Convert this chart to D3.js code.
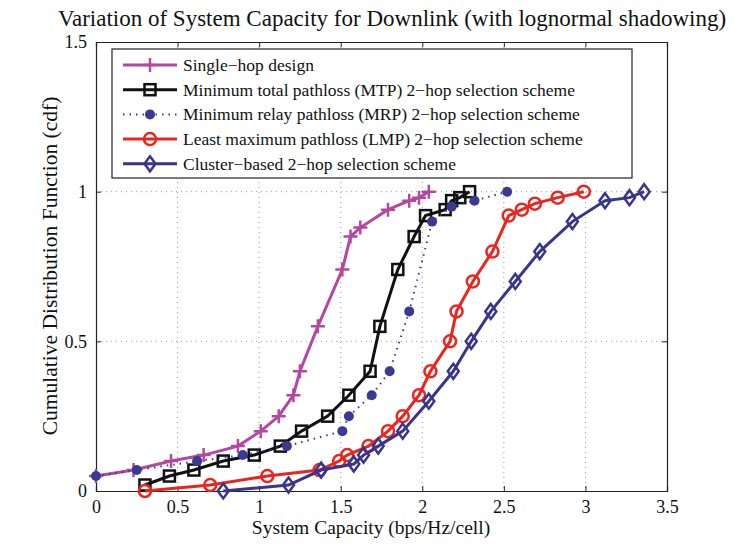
<!DOCTYPE html>
<html>
<head>
<meta charset="utf-8">
<script src="https://cdn.jsdelivr.net/npm/d3@7"></script>
<style>
  body { margin: 0; background: #fff; }
</style>
</head>
<body>
<div id="chart"></div>
<script>
// data
const singleX = [0, 0.23, 0.46, 0.66, 0.87, 1.01, 1.12, 1.21, 1.25, 1.36, 1.51, 1.56, 1.62, 1.79, 1.92, 1.98, 2.04]
const singleY = [0.05, 0.07, 0.10, 0.12, 0.15, 0.20, 0.25, 0.32, 0.40, 0.55, 0.74, 0.85, 0.88, 0.94, 0.97, 0.98, 1.0]

const mtpX = [0.30, 0.45, 0.60, 0.78, 0.97, 1.13, 1.26, 1.42, 1.55, 1.68, 1.74, 1.85, 1.95, 2.02, 2.14, 2.18, 2.23, 2.29]
const mtpY = [0.02, 0.05, 0.07, 0.10, 0.12, 0.15, 0.20, 0.25, 0.32, 0.40, 0.55, 0.74, 0.85, 0.92, 0.94, 0.97, 0.98, 1.0]

const mrpX = [0, 0.25, 0.62, 0.90, 1.17, 1.51, 1.55, 1.69, 1.80, 1.92, 2.06, 2.18, 2.32, 2.52]
const mrpY = [0.05, 0.07, 0.10, 0.12, 0.15, 0.20, 0.25, 0.32, 0.40, 0.60, 0.90, 0.95, 0.97, 1.0]

const lmpX = [0.30, 0.70, 1.05, 1.37, 1.49, 1.54, 1.67, 1.79, 1.88, 1.98, 2.05, 2.17, 2.21, 2.31, 2.43, 2.53, 2.61, 2.69, 2.83, 2.99]
const lmpY = [0.0, 0.02, 0.05, 0.07, 0.10, 0.12, 0.15, 0.20, 0.25, 0.32, 0.40, 0.50, 0.60, 0.70, 0.80, 0.92, 0.94, 0.96, 0.98, 1.0]

const clusterX = [0.78, 1.18, 1.38, 1.58, 1.64, 1.73, 1.88, 2.04, 2.19, 2.30, 2.42, 2.57, 2.72, 2.92, 3.12, 3.27, 3.36]
const clusterY = [0.0, 0.02, 0.07, 0.09, 0.12, 0.15, 0.20, 0.30, 0.40, 0.50, 0.60, 0.70, 0.80, 0.90, 0.97, 0.98, 1.0]

const xTicks = [0, 0.5, 1, 1.5, 2, 2.5, 3, 3.5]
const yTicks = [0, 0.5, 1, 1.5]

const seriesNames = [
  "Single\u2212hop design",
  "Minimum total pathloss (MTP) 2\u2212hop selection scheme",
  "Minimum relay pathloss (MRP) 2\u2212hop selection scheme",
  "Least maximum pathloss (LMP) 2\u2212hop selection scheme",
  "Cluster\u2212based 2\u2212hop selection scheme"
]

const series = [
  { name: seriesNames[0], xs: singleX, ys: singleY, color: "#b4479f", marker: "plus", dash: null },
  { name: seriesNames[1], xs: mtpX, ys: mtpY, color: "#111111", marker: "square", dash: null },
  { name: seriesNames[2], xs: mrpX, ys: mrpY, color: "#3b3a91", marker: "dot", dash: "1.5,5" },
  { name: seriesNames[3], xs: lmpX, ys: lmpY, color: "#e8261f", marker: "circle", dash: null },
  { name: seriesNames[4], xs: clusterX, ys: clusterY, color: "#39358c", marker: "diamond", dash: null }
]

const FONT = '"Liberation Serif", "Times New Roman", Times, "DejaVu Serif", serif'
const W = 734, H = 553
const mLeft = 96, mRight = 667, mTop = 42, mBottom = 491

const svg = d3.select('#chart').append('svg')
  .attr('width', W).attr('height', H)

const x = d3.scaleLinear().domain([0, 3.5]).range([mLeft, mRight])
const y = d3.scaleLinear().domain([0, 1.5]).range([mBottom, mTop])

// grid
const grid = svg.append('g')
grid.selectAll('line.gx')
  .data(xTicks.filter(d => d > 0 && d < 3.5))
  .enter().append('line')
  .attr('x1', d => x(d)).attr('x2', d => x(d))
  .attr('y1', mTop).attr('y2', mBottom)
  .attr('stroke', '#999').attr('stroke-width', 1).attr('stroke-dasharray', '1,4')
grid.selectAll('line.gy')
  .data(yTicks.filter(d => d > 0 && d < 1.5))
  .enter().append('line')
  .attr('x1', mLeft).attr('x2', mRight)
  .attr('y1', d => y(d)).attr('y2', d => y(d))
  .attr('stroke', '#999').attr('stroke-width', 1).attr('stroke-dasharray', '1,4')

// axes (matlab style: ticks inward on all sides)
const axFont = g => g.selectAll('text')
  .style('font-family', FONT).style('font-size', '18px').attr('fill', '#111')

svg.append('g').attr('transform', 'translate(0,' + mBottom + ')')
  .call(d3.axisBottom(x).tickValues(xTicks).tickFormat(d3.format('')).tickSize(-5).tickPadding(9))
  .call(axFont)
svg.append('g').attr('transform', 'translate(0,' + mTop + ')')
  .call(d3.axisTop(x).tickValues(xTicks).tickFormat('').tickSize(-5))
svg.append('g').attr('transform', 'translate(' + mLeft + ',0)')
  .call(d3.axisLeft(y).tickValues(yTicks).tickFormat(d3.format('')).tickSize(-5).tickPadding(9))
  .call(axFont)
svg.append('g').attr('transform', 'translate(' + mRight + ',0)')
  .call(d3.axisRight(y).tickValues(yTicks).tickFormat('').tickSize(-5))
svg.selectAll('.domain').attr('stroke', '#222').attr('stroke-width', 1.2)
svg.selectAll('.tick line').attr('stroke', '#222')

// lines
const line = d3.line()
function drawMarker(g, type, color) {
  if (type === 'plus') {
    g.append('path').attr('d', 'M-7,0H7M0,-7V7')
      .attr('stroke', color).attr('stroke-width', 2.5).attr('fill', 'none')
  } else if (type === 'square') {
    g.append('rect').attr('x', -5.5).attr('y', -5.5).attr('width', 11).attr('height', 11)
      .attr('stroke', color).attr('stroke-width', 2.5).attr('fill', 'none')
  } else if (type === 'dot') {
    g.append('circle').attr('r', 5).attr('fill', color)
  } else if (type === 'circle') {
    g.append('circle').attr('r', 6).attr('stroke', color).attr('stroke-width', 2.5).attr('fill', 'none')
  } else if (type === 'diamond') {
    g.append('path').attr('d', 'M0,-7.5L5.5,0L0,7.5L-5.5,0Z')
      .attr('stroke', color).attr('stroke-width', 2.5).attr('fill', 'none')
  }
}

series.forEach(s => {
  const pts = s.xs.map((v, i) => [x(v), y(s.ys[i])])
  svg.append('path')
    .attr('d', line(pts))
    .attr('fill', 'none')
    .attr('stroke', s.color)
    .attr('stroke-width', s.dash ? 2 : 3)
    .attr('stroke-dasharray', s.dash)
  svg.selectAll(null)
    .data(pts)
    .enter().append('g')
    .attr('transform', d => 'translate(' + d[0] + ',' + d[1] + ')')
    .each(function () { drawMarker(d3.select(this), s.marker, s.color) })
})

// legend
const lg = svg.append('g')
lg.append('rect').attr('x', 112).attr('y', 49).attr('width', 520).attr('height', 129)
  .attr('fill', '#fff').attr('stroke', '#222').attr('stroke-width', 1.2)
series.forEach((s, i) => {
  const ly = 65 + i * 24.7
  lg.append('line').attr('x1', 123).attr('x2', 177).attr('y1', ly).attr('y2', ly)
    .attr('stroke', s.color).attr('stroke-width', s.dash ? 2 : 3)
    .attr('stroke-dasharray', s.dash)
  const m = lg.append('g').attr('transform', 'translate(150,' + ly + ')')
  drawMarker(m, s.marker, s.color)
  lg.append('text').attr('x', 183).attr('y', ly + 6)
    .style('font-family', FONT).style('font-size', '17.5px').attr('fill', '#111')
    .text(s.name)
})

// titles
svg.append('text').attr('x', 392).attr('y', 26).attr('text-anchor', 'middle')
  .style('font-family', FONT).style('font-size', '23px').attr('fill', '#111')
  .text('Variation of System Capacity for Downlink (with lognormal shadowing)')
svg.append('text').attr('x', 371).attr('y', 534).attr('text-anchor', 'middle')
  .style('font-family', FONT).style('font-size', '19.5px').attr('fill', '#111')
  .text('System Capacity (bps/Hz/cell)')
svg.append('text').attr('transform', 'translate(57,266) rotate(-90)').attr('text-anchor', 'middle')
  .style('font-family', FONT).style('font-size', '21.5px').attr('fill', '#111')
  .text('Cumulative Distribution Function (cdf)')
</script>
</body>
</html>
